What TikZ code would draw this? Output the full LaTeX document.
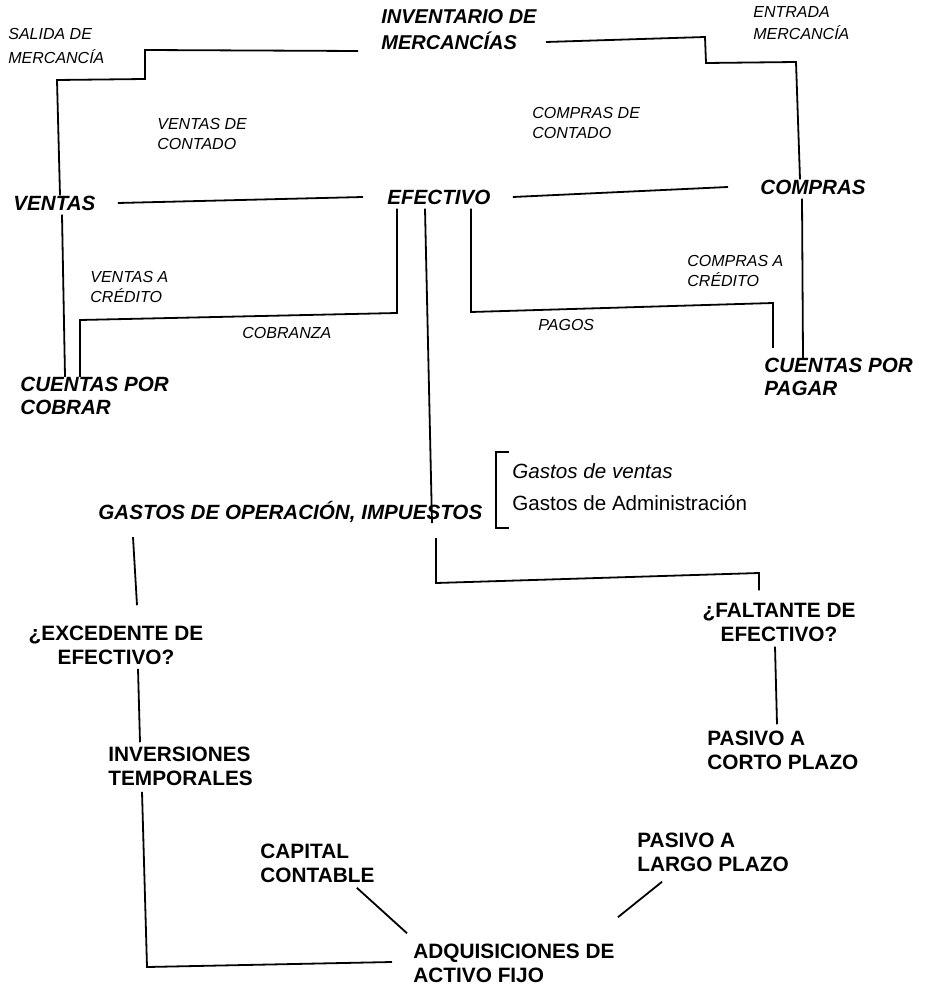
\documentclass[tikz,border=0pt]{standalone}
\usepackage{fontspec}
\setmainfont{Liberation Sans}
\usetikzlibrary{positioning,calc}
\tikzset{
  titulo/.style={font=\bfseries\itshape\fontsize{10.3}{12}\selectfont, align=left, inner sep=0pt, anchor=west},
  nota/.style={font=\itshape\fontsize{8}{10}\selectfont, align=left, inner sep=0pt, anchor=west},
  cuenta/.style={font=\bfseries\fontsize{10.4}{12}\selectfont, align=left, inner sep=0pt, anchor=west},
  linea/.style={line width=0.9pt},
}
\begin{document}
\begin{tikzpicture}[x=0.5pt,y=-0.5pt]
  \useasboundingbox (0,0) rectangle (926,984);

  % Cuentas del ciclo de operacion
  \node[titulo, font=\bfseries\itshape\fontsize{10}{13}\selectfont] (inventario) at (381,30) {INVENTARIO DE\\MERCANCÍAS};
  \node[titulo] (ventas) at (13,203) {VENTAS};
  \node[titulo] (efectivo) at (387,197) {EFECTIVO};
  \node[titulo] (compras) at (760,187) {COMPRAS};
  \node[titulo, font=\bfseries\itshape\fontsize{10.3}{11.5}\selectfont] (cxc) at (20,396) {CUENTAS POR\\COBRAR};
  \node[titulo, font=\bfseries\itshape\fontsize{10.3}{11.5}\selectfont] (cxp) at (764,377) {CUENTAS POR\\PAGAR};
  \node[titulo] (gastos) at (98,512) {GASTOS DE OPERACIÓN, IMPUESTOS};

  % Textos de los flujos
  \node[nota, font=\itshape\fontsize{8}{12}\selectfont] (salida) at (8,46) {SALIDA DE\\MERCANCÍA};
  \node[nota, font=\itshape\fontsize{8}{11}\selectfont] (entrada) at (753,23) {ENTRADA\\MERCANCÍA};
  \node[nota] (vcontado) at (157,134) {VENTAS DE\\CONTADO};
  \node[nota] (ccontado) at (532,123) {COMPRAS DE\\CONTADO};
  \node[nota] (vcredito) at (90,287) {VENTAS A\\CRÉDITO};
  \node[nota] (cobranza) at (242,333) {COBRANZA};
  \node[nota] (ccredito) at (687,271) {COMPRAS A\\CRÉDITO};
  \node[nota] (pagos) at (538,325) {PAGOS};

  % Detalle de los gastos
  \node[anchor=west, inner sep=0pt, font=\itshape\fontsize{10.3}{12}\selectfont] (gventas) at (512,471) {Gastos de ventas};
  \node[anchor=west, inner sep=0pt, font=\fontsize{10.3}{12}\selectfont] (gadmin) at (512,503) {Gastos de Administración};
  \draw[linea] (509,452) -| (496,528) -- (509,528);

  % Financiamiento e inversion
  \node[cuenta, anchor=center, align=center] (excedente) at (116,645) {¿EXCEDENTE DE\\EFECTIVO?};
  \node[cuenta, anchor=center, align=center] (faltante) at (779,622) {¿FALTANTE DE\\EFECTIVO?};
  \node[cuenta] (inversiones) at (108,766) {INVERSIONES\\TEMPORALES};
  \node[cuenta] (pcorto) at (707,750) {PASIVO A\\CORTO PLAZO};
  \node[cuenta] (capital) at (260,863) {CAPITAL\\CONTABLE};
  \node[cuenta] (plargo) at (637,852) {PASIVO A\\LARGO PLAZO};
  \node[cuenta] (activo) at (413,963) {ADQUISICIONES DE\\ACTIVO FIJO};

  % Lineas del ciclo
  \draw[linea] ($(inventario.west)+(-23,21)$) -- (145,50) -- (145,79) -- (57,80) -- (ventas.north -| 60,0);
  \draw[linea] ($(ventas.south -| 62,0)+(0,4)$) -- (cxc.north -| 65,0);
  \draw[linea] ($(inventario.east)+(9,12)$) -- (705,37) -- (706,63) -- (796,62) -- (compras.north -| 800,0);
  \draw[linea] ($(compras.south -| 802,0)+(0,4)$) -- (cxp.north -| 803,0);
  \draw[linea] ([xshift=11pt]ventas.east) -- ([xshift=-12pt]efectivo.west);
  \draw[linea] ([xshift=11pt]efectivo.east) -- ([xshift=-16pt]compras.west);
  \draw[linea] ($(efectivo.south -| 397,0)+(0,4)$) -- (397,313) -- (80,320) -- (cxc.north -| 80,0);
  \draw[linea] ($(efectivo.south -| 471,0)+(0,4)$) -- (471,312) -- (773,303) -- ($(cxp.north -| 773,0)+(0,-10)$);
  \draw[linea] ($(efectivo.south -| 425,0)+(0,4)$) -- (gastos.south -| 432,0);

  % Lineas de la parte baja
  \draw[linea] ($(gastos.south -| 436,0)+(0,15)$) -- (436,583) -- (759,573) -- ($(faltante.north -| 759,0)+(0,-12)$);
  \draw[linea] ($(gastos.south -| 133,0)+(0,14)$) -- ($(excedente.north -| 137,0)+(0,-20)$);
  \draw[linea] ($(excedente.south -| 138,0)+(0,4)$) -- ($(inversiones.north -| 140,0)+(0,-4)$);
  \draw[linea] ($(inversiones.south -| 142,0)+(0,6)$) -- (147,967) -- ($(activo.west)+(-21,-1)$);
  \draw[linea] ($(capital.south east)+(-18,5)$) -- ($(activo.north west)+(-6,-10)$);
  \draw[linea] ($(plargo.south west)+(25,10)$) -- ($(activo.north east)+(3,-26)$);
  \draw[linea] ($(faltante.south -| 775,0)+(0,5)$) -- ($(pcorto.north -| 777,0)+(0,-6)$);
\end{tikzpicture}
\end{document}
